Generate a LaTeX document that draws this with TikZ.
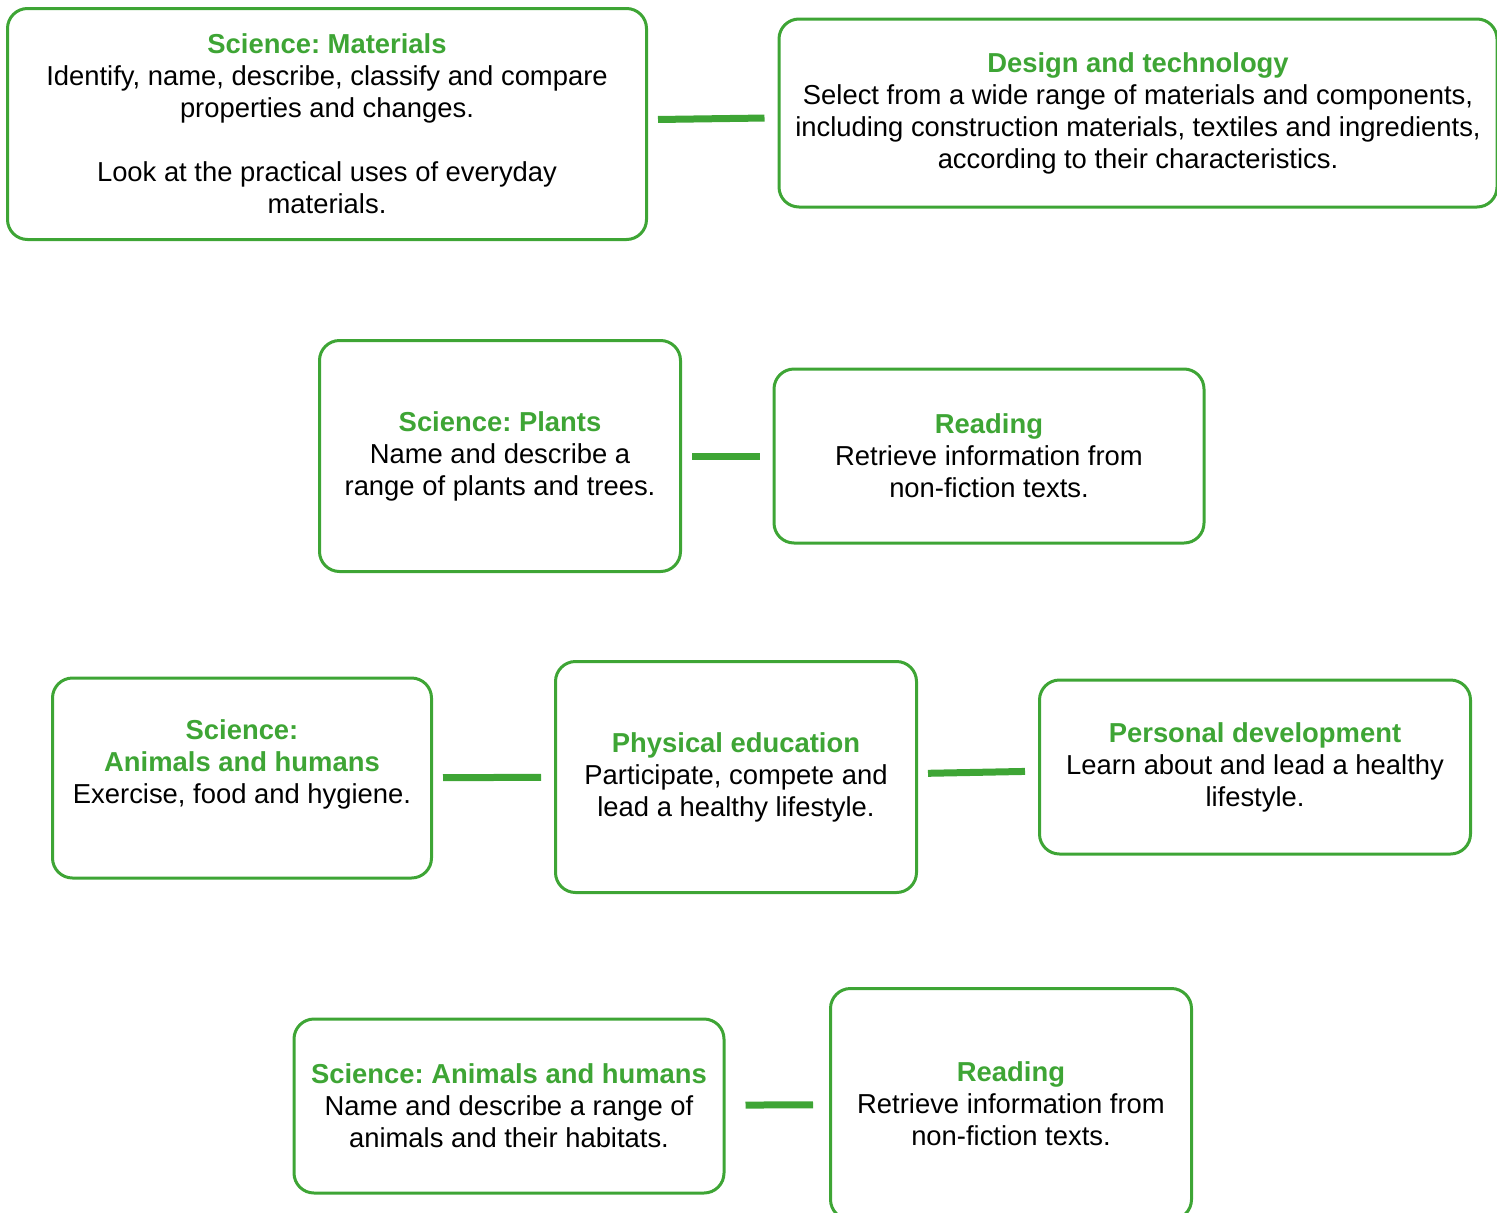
\documentclass[tikz,border=0pt]{standalone}
\usepackage{fontspec}
\setmainfont{Liberation Sans}
\usepackage{tikz}
\frenchspacing
\definecolor{leafgreen}{RGB}{62,165,53}
\newcommand{\heading}[1]{{\bfseries\color{leafgreen}#1}}
\tikzset{
  subject/.style={draw=leafgreen, line width=3pt, rounded corners=20pt, align=center,
    inner sep=0pt, font=\fontsize{27.4}{32}\selectfont},
  link/.style={leafgreen, line width=7pt, shorten <=10pt, shorten >=13pt},
}

\begin{document}
\begin{tikzpicture}[x=1pt,y=-1pt]
  \useasboundingbox (0,0) rectangle (1497,1213);
  % top row
  \node[subject, minimum width=639, minimum height=231] (materials) at (327,124)
    {\heading{Science: Materials}\\ Identify, name, describe, classify and compare\\ properties and changes.\\[32pt]
     Look at the practical uses of everyday\\ materials.};
  \node[subject, minimum width=718, minimum height=188] (design) at (1138,113)
    {\heading{Design and technology}\\ Select from a wide range of materials and components,\\
     including construction materials, textiles and ingredients,\\ according to their characteristics.};
  % second row
  \node[subject, minimum width=361, minimum height=231] (plants) at (500,456)
    {\heading{Science: Plants}\\ Name and describe a\\ range of plants and trees.};
  \node[subject, minimum width=430, minimum height=174] (reading) at (989,456)
    {\heading{Reading}\\ Retrieve information from\\ non-fiction texts.};
  % third row
  \node[subject, minimum width=379, minimum height=200] (animals) at (242,778)
    {\heading{Science:}\\ \heading{Animals and humans}\\ Exercise, food and hygiene.\\ \mbox{}};
  \node[subject, minimum width=361, minimum height=231] (pe) at (736,777)
    {\heading{Physical education}\\ Participate, compete and\\ lead a healthy lifestyle.};
  \node[subject, minimum width=431, minimum height=174] (personal) at (1255,767)
    {\heading{Personal development}\\ Learn about and lead a healthy\\ lifestyle.};
  % bottom row
  \node[subject, minimum width=430, minimum height=174] (habitats) at (509,1106)
    {\heading{Science: Animals and humans}\\ Name and describe a range of\\ animals and their habitats.};
  \node[subject, minimum width=361, minimum height=231] (reading2) at (1011,1104)
    {\heading{Reading}\\ Retrieve information from\\ non-fiction texts.};
  % links
  \draw[link] (materials) -- (design);
  \draw[link] (plants) -- (reading);
  \draw[link] (animals) -- (pe);
  \draw[link] (pe) -- (personal);
  \draw[link, shorten <=20pt, shorten >=16pt] (habitats) -- (reading2);
\end{tikzpicture}
\end{document}
